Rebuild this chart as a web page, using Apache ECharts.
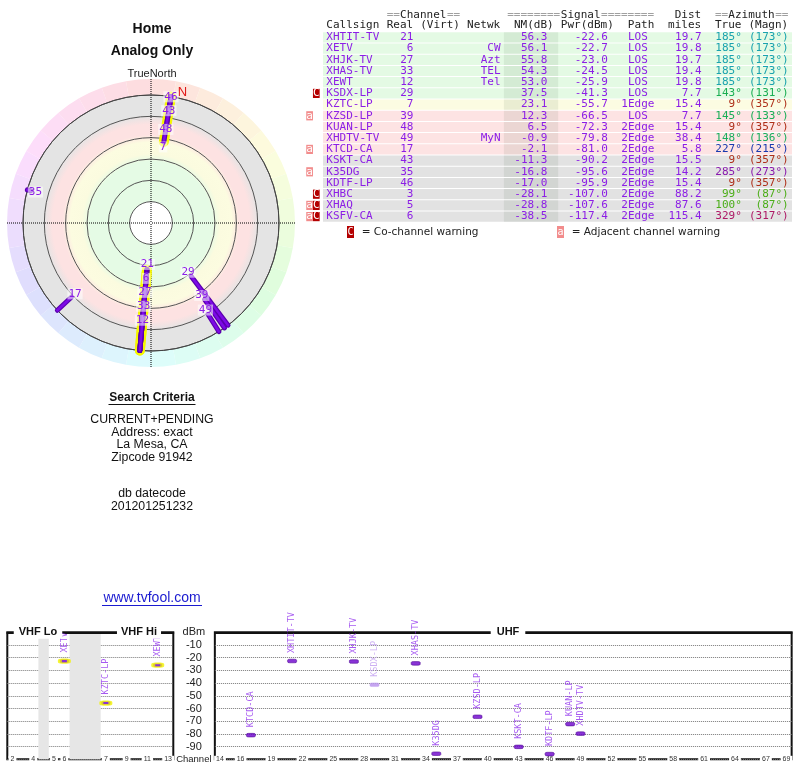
<!DOCTYPE html>
<html>
<head>
<meta charset="utf-8">
<title>TV Fool – Home, Analog Only</title>
<script src="https://cdn.jsdelivr.net/npm/echarts/dist/echarts.min.js"></script>
<style>html,body{margin:0;padding:0;background:#fff}#main{width:800px;height:768px}</style>
</head>
<body>
<div id="main"></div>
<script>
// ---------------- data ----------------
const callsigns = ['XHTIT-TV','XETV','XHJK-TV','XHAS-TV','XEWT','KSDX-LP','KZTC-LP','KZSD-LP','KUAN-LP','XHDTV-TV','KTCD-CA','KSKT-CA','K35DG','KDTF-LP','XHBC','XHAQ','KSFV-CA'];
const realChannels = [21,6,27,33,12,29,7,39,48,49,17,43,35,46,3,5,6];
const networks = ['','CW','Azt','TEL','Tel','','','','','MyN','','','','','','',''];
const noiseMargin = [56.3,56.1,55.8,54.3,53.0,37.5,23.1,12.3,6.5,-0.9,-2.1,-11.3,-16.8,-17.0,-28.1,-28.8,-38.5];
const powerDbm = [-22.6,-22.7,-23.0,-24.5,-25.9,-41.3,-55.7,-66.5,-72.3,-79.8,-81.0,-90.2,-95.6,-95.9,-107.0,-107.6,-117.4];
const paths = ['LOS','LOS','LOS','LOS','LOS','LOS','1Edge','LOS','2Edge','2Edge','2Edge','2Edge','2Edge','2Edge','2Edge','2Edge','2Edge'];
const distMiles = [19.7,19.8,19.7,19.4,19.8,7.7,15.4,7.7,15.4,38.4,5.8,15.5,14.2,15.4,88.2,87.6,115.4];
const azimuthTrue = [185,185,185,185,185,143,9,145,9,148,227,9,285,9,99,100,329];
const azimuthMagn = [173,173,173,173,173,131,357,133,357,136,215,357,273,357,87,87,317];
const coChannelWarning = [0,0,0,0,0,1,0,0,0,0,0,0,0,0,1,1,1];
const adjChannelWarning = [0,0,0,0,0,0,0,1,0,0,1,0,1,0,0,1,1];

const headerTop = ['==Channel==','========Signal========','Dist','==Azimuth=='];
const headerBottom = ['Callsign','Real','(Virt)','Netwk','NM(dB)','Pwr(dBm)','Path','miles','True','(Magn)'];

const vhfSlots = ['2','3','4','gapA','5','6','gapB1','gapB2','gapB3','7','8','9','10','11','12','13'];
const uhfSlots = ['14','15','16','17','18','19','20','21','22','23','24','25','26','27','28','29','30','31','32','33','34','35','36','37','38','39','40','41','42','43','44','45','46','47','48','49','50','51','52','53','54','55','56','57','58','59','60','61','62','63','64','65','66','67','68','69'];
const vhfTickLabels = ['2','4','5','6','7','9','11','13'];
const uhfTickLabels = ['14','16','19','22','25','28','31','34','37','40','43','46','49','52','55','58','61','64','67','69'];

const criteriaLines = ['CURRENT+PENDING','Address: exact','La Mesa, CA','Zipcode 91942'];
const datecodeLines = ['db datecode','201201251232'];

// ---------------- layout / style ----------------
const PURPLE = '#8c1ee6';
const MONO = '"DejaVu Sans Mono", monospace';
const SANS = '"Liberation Sans", Arial, sans-serif';
const CENTER = [151, 223];
const headerTopCols = [9, 27, 52, 58];
const headerBottomCols = [0, 9, 14, 21, 28, 35, 45, 51, 58, 63];

function zoneColor(nm) {
  if (nm >= 30) return '#e4fae4';
  if (nm >= 20) return '#fcfce2';
  if (nm >= -10) return '#fde3e3';
  return '#e2e2e2';
}
function azColor(az) { return 'hsl(' + az + ',75%,39%)'; }
const isVhf = ch => ch <= 13;

const polarStations = callsigns.map((c, i) => i).filter(i => noiseMargin[i] >= -20);
const vhfPolar = polarStations.filter(i => isVhf(realChannels[i]));

// ---------------- polar renderers ----------------
function stationLine(idx, api, width, color) {
  const p1 = api.coord([noiseMargin[idx], azimuthTrue[idx]]);
  const p2 = api.coord([-20, azimuthTrue[idx]]);
  return {type: 'line', shape: {x1: p1[0], y1: p1[1], x2: p2[0], y2: p2[1]},
          style: {stroke: color, lineWidth: width, lineCap: 'round'}};
}
function renderYellow(params, api) {
  return stationLine(vhfPolar[params.dataIndex], api, 10, '#f6f600');
}
function renderPurple(params, api) {
  const idx = polarStations[params.dataIndex];
  return {type: 'group', children: [
    stationLine(idx, api, 5, '#5a00ae'),
    stationLine(idx, api, 2.6, '#7d0ae6')
  ]};
}
let labelLayout = null;
function computeLabelLayout(api) {
  const c = api.coord([100, 0]);
  const order = polarStations.slice().sort((a, b) => noiseMargin[b] - noiseMargin[a]);
  const placed = [];
  const res = {};
  order.forEach(i => {
    const p = api.coord([noiseMargin[i], azimuthTrue[i]]);
    const dx = p[0] - c[0], dy = p[1] - c[1];
    const r = Math.hypot(dx, dy);
    let rl = r - 5;
    placed.forEach(q => {
      if (Math.abs(q.az - azimuthTrue[i]) <= 4 && rl < q.rl + 14) rl = q.rl + 14;
    });
    placed.push({az: azimuthTrue[i], rl: rl});
    res[i] = [c[0] + dx / r * rl, c[1] + dy / r * rl];
  });
  return res;
}
function renderLabels(params, api) {
  if (!labelLayout) labelLayout = computeLabelLayout(api);
  const idx = polarStations[params.dataIndex];
  const pos = labelLayout[idx];
  const children = [{type: 'text', style: {text: String(realChannels[idx]), x: pos[0], y: pos[1],
    align: 'center', verticalAlign: 'middle', fill: PURPLE, font: '11px ' + MONO,
    backgroundColor: 'rgba(255,255,255,0.55)', padding: [0, 1]}}];
  if (params.dataIndex === 0) {
    const decl = azimuthTrue[0] - azimuthMagn[0];
    const c = api.coord([100, 0]);
    const q = api.coord([-20, decl]);
    const k = 134 / Math.hypot(q[0] - c[0], q[1] - c[1]);
    children.push({type: 'text', style: {text: 'N', x: c[0] + (q[0] - c[0]) * k - 1, y: c[1] + (q[1] - c[1]) * k,
      align: 'left', verticalAlign: 'middle', fill: '#e01818', font: '13px ' + SANS}});
  }
  return {type: 'group', children: children};
}

// ---------------- table renderer ----------------
function renderRow(params, api) {
  const i = params.dataIndex;
  const y = api.coord([0, i])[1];
  const rh = api.coord([0, 1])[1] - api.coord([0, 0])[1];
  const X = c => api.coord([c, i])[0];
  const font = '11px ' + MONO;
  const txt = (s, x, align, fill, yy) => ({type: 'text', style: {text: s, x: x, y: yy === undefined ? y : yy,
    align: align, verticalAlign: 'middle', fill: fill || PURPLE, font: font}});
  const ch = [];
  ch.push({type: 'rect', shape: {x: X(-0.5), y: y - rh / 2 + 0.5, width: X(69.5) - X(-0.5), height: rh - 1},
           style: {fill: zoneColor(noiseMargin[i])}});
  ch.push({type: 'rect', shape: {x: X(26.5), y: y - rh / 2 + 0.5, width: X(34.6) - X(26.5), height: rh - 1},
           style: {fill: 'rgba(30,60,30,0.08)'}});
  ch.push(txt(callsigns[i], X(0), 'left'));
  ch.push(txt(String(realChannels[i]), X(13), 'right'));
  ch.push(txt(networks[i], X(26), 'right'));
  ch.push(txt(noiseMargin[i].toFixed(1), X(33), 'right'));
  ch.push(txt(powerDbm[i].toFixed(1), X(42), 'right'));
  ch.push(txt(paths[i], X(46.5), 'center'));
  ch.push(txt(distMiles[i].toFixed(1), X(56), 'right'));
  ch.push(txt(azimuthTrue[i] + '°', X(62), 'right', azColor(azimuthTrue[i])));
  ch.push(txt('(' + azimuthMagn[i] + '°)', X(69), 'right', azColor(azimuthTrue[i])));
  if (coChannelWarning[i]) {
    ch.push({type: 'rect', shape: {x: X(-2), y: y - rh / 2 + 1, width: X(-1) - X(-2), height: rh - 2}, style: {fill: '#b40000'}});
    ch.push(txt('C', (X(-2) + X(-1)) / 2, 'center', '#fff'));
  }
  if (adjChannelWarning[i]) {
    ch.push({type: 'rect', shape: {x: X(-3), y: y - rh / 2 + 1, width: X(-2) - X(-3), height: rh - 2}, style: {fill: '#f28c8c'}});
    ch.push(txt('a', (X(-3) + X(-2)) / 2, 'center', '#fff'));
  }
  if (i === 0) {
    const y1 = y - 2.0 * rh, y2 = y - 1.1 * rh;
    headerTop.forEach((s, k) => {
      const runs = s.match(/=+|[^=]+/g);
      let col = headerTopCols[k];
      runs.forEach(r => {
        ch.push(txt(r, X(col), 'left', r[0] === '=' ? '#a0a0a0' : '#222', y1));
        col += r.length;
      });
    });
    headerBottom.forEach((s, k) => ch.push(txt(s, X(headerBottomCols[k]), 'left', '#222', y2)));
  }
  return {type: 'group', children: ch};
}

// ---------------- spectrum data ----------------
const vhfData = [], uhfData = [];
callsigns.forEach((cs, i) => {
  if (powerDbm[i] < -100) return;
  const light = coChannelWarning[i] === 1;
  const vhf = isVhf(realChannels[i]);
  const item = {
    name: cs,
    value: [String(realChannels[i]), powerDbm[i]],
    itemStyle: {color: light ? '#b78eec' : '#6c00cc',
                borderColor: vhf ? '#f2f200' : (light ? '#c9a9f2' : '#48008c'),
                borderWidth: vhf ? 2.5 : 0.6},
    label: {color: light ? '#c09cf0' : '#9030ee'}
  };
  (vhf ? vhfData : uhfData).push(item);
});
const vhfAreaColors = vhfSlots.map(s => s.indexOf('gap') === 0 ? '#e6e6e6' : 'rgba(0,0,0,0)');

const specLabel = {show: true, formatter: '{b}', position: 'top', distance: 6, rotate: 90,
  align: 'left', verticalAlign: 'middle', fontFamily: 'DejaVu Sans Mono', fontSize: 8.5};
const specX = (idx, slots, ticks) => ({
  type: 'category', gridIndex: idx, data: slots, z: 4,
  axisLine: {show: true, lineStyle: {color: '#111', width: 2}},
  axisTick: {show: false},
  axisLabel: {interval: (n, v) => ticks.indexOf(v) >= 0, margin: 0, verticalAlign: 'middle',
    fontSize: 7, color: '#333', fontFamily: SANS, backgroundColor: '#fff', padding: [0, 2]},
  splitLine: {show: false}
});
const specY = (idx, showLabels) => ({
  type: 'value', gridIndex: idx, min: -100, max: 0, interval: 10, z: 2,
  axisLine: {show: false}, axisTick: {show: false},
  splitLine: {show: true, lineStyle: {color: '#777', type: 'dotted', width: 1}},
  axisLabel: showLabels ? {show: true, margin: 21, align: 'center', fontSize: 11, color: '#222', fontFamily: SANS,
    formatter: v => v === 0 ? 'dBm' : (v === -100 ? '{ch|Channel}' : String(v)),
    rich: {ch: {fontSize: 9.5, fontFamily: SANS, color: '#222'}}} : {show: false}
});

// ---------------- graphics (texts) ----------------
const textEl = (s, x, y, font, fill, extra) => Object.assign({type: 'text', z: 100, silent: true,
  style: Object.assign({text: s, x: x, y: y, font: font, fill: fill || '#111', align: 'center', verticalAlign: 'middle'}, extra || {})});
const graphics = [
  textEl('Home', 152, 29, 'bold 14px ' + SANS),
  textEl('Analog Only', 152, 51, 'bold 14px ' + SANS),
  textEl('TrueNorth', 152, 74, '11px ' + SANS, '#222'),
  textEl('Search Criteria', 152, 397.5, 'bold 12px ' + SANS),
  {type: 'line', z: 100, silent: true, shape: {x1: 108.5, y1: 404.5, x2: 195.5, y2: 404.5}, style: {stroke: '#111', lineWidth: 1}},
  textEl('www.tvfool.com', 152, 598.3, '14px ' + SANS, '#1a1ad0'),
  {type: 'line', z: 100, silent: true, shape: {x1: 102, y1: 605.5, x2: 202, y2: 605.5}, style: {stroke: '#1a1ad0', lineWidth: 1}},
  textEl('VHF Lo', 38, 632.3, 'bold 11px ' + SANS, '#111', {backgroundColor: '#fff', padding: [1, 5]}),
  textEl('VHF Hi', 139, 632.3, 'bold 11px ' + SANS, '#111', {backgroundColor: '#fff', padding: [1, 4]}),
  textEl('UHF', 508, 632.3, 'bold 11px ' + SANS, '#111', {backgroundColor: '#fff', padding: [1, 6]}),
  {type: 'rect', z: 100, silent: true, shape: {x: 347, y: 226, width: 7, height: 12}, style: {fill: '#b40000'}},
  textEl('C', 350.5, 232.5, '10px ' + MONO, '#fff'),
  textEl('= Co-channel warning', 361.7, 232.5, '10.5px "DejaVu Sans", sans-serif', '#222', {align: 'left'}),
  {type: 'rect', z: 100, silent: true, shape: {x: 557, y: 226, width: 7, height: 12}, style: {fill: '#f28c8c'}},
  textEl('a', 560.5, 232.5, '10px ' + MONO, '#fff'),
  textEl('= Adjacent channel warning', 571.7, 232.5, '10.5px "DejaVu Sans", sans-serif', '#222', {align: 'left'})
];
criteriaLines.forEach((s, k) => graphics.push(textEl(s, 152, 420 + k * 12.4, '12.3px ' + SANS)));
datecodeLines.forEach((s, k) => graphics.push(textEl(s, 152, 494 + k * 12.4, '12.3px ' + SANS)));

// ---------------- option ----------------
const wheelSegments = 36;
const wheelData = [];
for (let k = 0; k < wheelSegments; k++) {
  wheelData.push({value: 1, itemStyle: {color: 'hsl(' + (k * 360 / wheelSegments + 5) + ',88%,93%)'}});
}

const chart = echarts.init(document.getElementById('main'));
const option = {
  animation: false,
  backgroundColor: '#fff',
  textStyle: {fontFamily: SANS},
  polar: [
    {center: CENTER, radius: 128},
    {center: CENTER, radius: 144}
  ],
  angleAxis: [
    {polarIndex: 0, type: 'value', min: 0, max: 360, startAngle: 90, clockwise: true, z: 3,
     axisLine: {show: true, lineStyle: {color: '#444', width: 1}}, axisTick: {show: false},
     axisLabel: {show: false}, splitLine: {show: false}},
    {polarIndex: 1, type: 'value', min: 0, max: 360, interval: 90, startAngle: 90, clockwise: true, z: 3,
     axisLine: {show: false}, axisTick: {show: false}, axisLabel: {show: false},
     splitLine: {show: true, lineStyle: {color: '#000', type: 'dotted', width: 1}}}
  ],
  radiusAxis: [
    {polarIndex: 0, type: 'value', min: -20, max: 100, interval: 20, inverse: true, z: 3,
     axisLine: {show: false}, axisTick: {show: false}, axisLabel: {show: false},
     splitLine: {show: true, lineStyle: {color: '#555', width: 1}}},
    {polarIndex: 1, type: 'value', min: 0, max: 1, show: false}
  ],
  grid: [
    {left: 323, top: 31.8, width: 469, height: 190.4, outerBoundsMode: 'none'},
    {left: 7.3, top: 632.3, width: 166, height: 127, show: true, borderColor: '#111', borderWidth: 2,
     backgroundColor: 'transparent', outerBoundsMode: 'none'},
    {left: 214.85, top: 632.3, width: 576.8, height: 127, show: true, borderColor: '#111', borderWidth: 2,
     backgroundColor: 'transparent', outerBoundsMode: 'none'}
  ],
  xAxis: [
    {type: 'value', gridIndex: 0, min: -0.5, max: 69.5, show: false},
    Object.assign(specX(1, vhfSlots, vhfTickLabels), {
      splitArea: {show: true, interval: 0, areaStyle: {color: vhfAreaColors}}}),
    specX(2, uhfSlots, uhfTickLabels)
  ],
  yAxis: [
    {type: 'category', gridIndex: 0, data: callsigns, inverse: true, show: false},
    specY(1, false),
    specY(2, true)
  ],
  graphic: graphics,
  series: [
    {type: 'pie', z: 1, silent: true, center: CENTER, radius: [0, 128], label: {show: false}, labelLine: {show: false},
     itemStyle: {borderWidth: 0, color: {type: 'radial', x: 0.5, y: 0.5, r: 0.5, colorStops: [
       {offset: 0, color: '#ffffff'}, {offset: 0.166, color: '#ffffff'},
       {offset: 0.17, color: '#e5fbe5'}, {offset: 0.48, color: '#e5fbe5'},
       {offset: 0.54, color: '#fbfbdf'}, {offset: 0.63, color: '#fcfce0'},
       {offset: 0.69, color: '#fde2e2'}, {offset: 0.77, color: '#fde2e2'},
       {offset: 0.84, color: '#e4e4e4'}, {offset: 1, color: '#e4e4e4'}]}},
     data: [{value: 1}]},
    {type: 'pie', z: 1, silent: true, center: CENTER, radius: [128, 144], startAngle: 90, clockwise: true,
     label: {show: false}, labelLine: {show: false}, itemStyle: {borderWidth: 0}, data: wheelData},
    {type: 'custom', coordinateSystem: 'polar', polarIndex: 0, z: 4, silent: true, clip: false,
     data: vhfPolar.map(i => [noiseMargin[i], azimuthTrue[i]]), renderItem: renderYellow},
    {type: 'custom', coordinateSystem: 'polar', polarIndex: 0, z: 5, silent: true, clip: false,
     data: polarStations.map(i => [noiseMargin[i], azimuthTrue[i]]), renderItem: renderPurple},
    {type: 'custom', coordinateSystem: 'polar', polarIndex: 0, z: 6, silent: true, clip: false,
     data: polarStations.map(i => [noiseMargin[i], azimuthTrue[i]]), renderItem: renderLabels},
    {type: 'custom', xAxisIndex: 0, yAxisIndex: 0, silent: true, clip: false,
     data: callsigns.map((c, i) => [0, i]), encode: {x: 0, y: 1}, renderItem: renderRow},
    {type: 'scatter', xAxisIndex: 1, yAxisIndex: 1, z: 6, silent: true, symbol: 'roundRect', symbolSize: [9, 3.6],
     data: vhfData, label: specLabel},
    {type: 'scatter', xAxisIndex: 2, yAxisIndex: 2, z: 6, silent: true, symbol: 'roundRect', symbolSize: [9, 3.6],
     data: uhfData, label: specLabel}
  ]
};
chart.setOption(option);
</script>
</body>
</html>
